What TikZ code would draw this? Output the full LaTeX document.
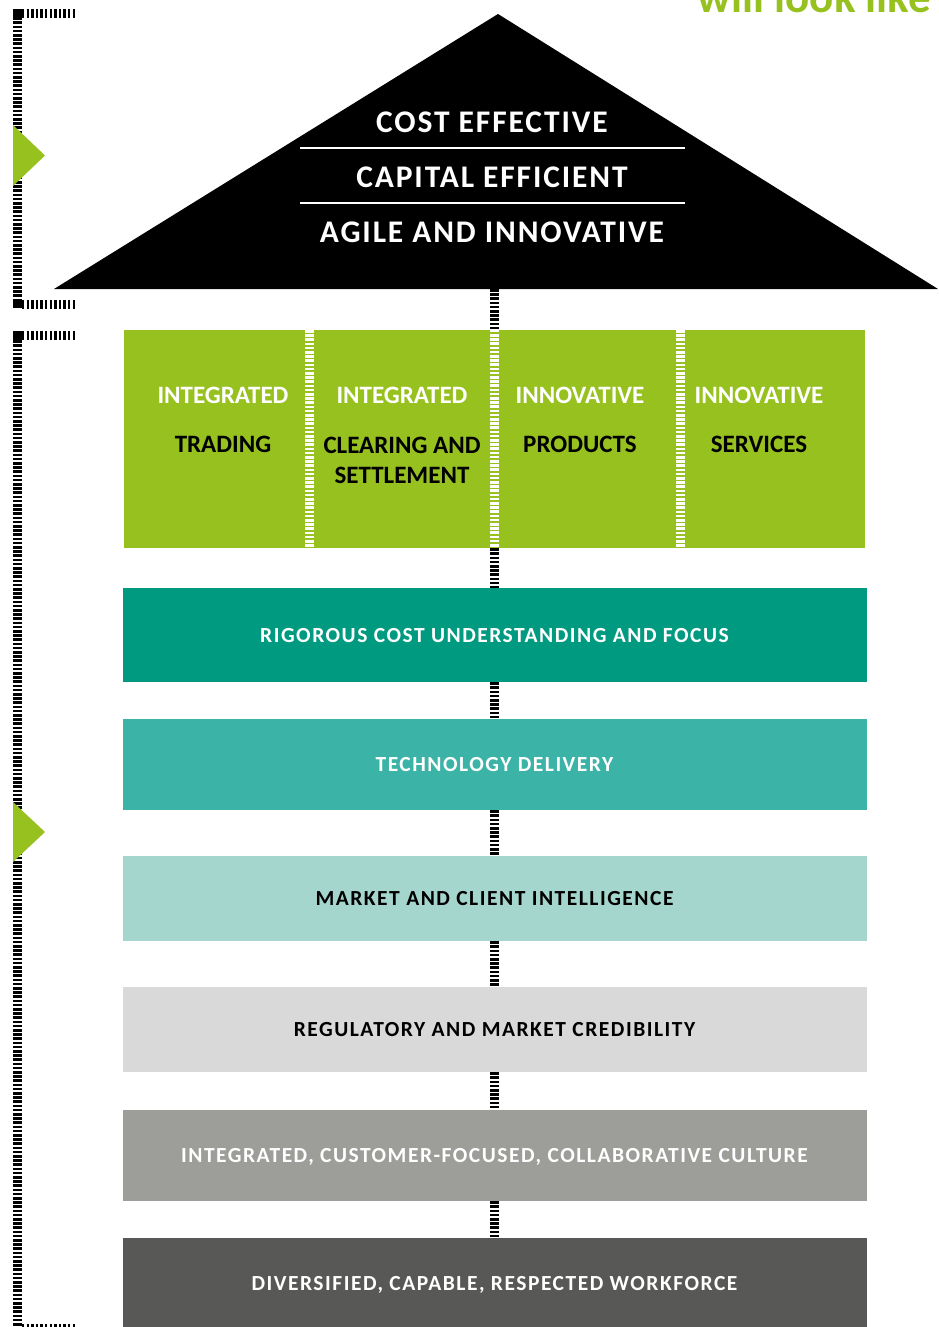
\documentclass[tikz,border=0pt]{standalone}
\usepackage{fontspec}
\setmainfont{Carlito}
\newfontfamily\spacedfont[LetterSpace=6]{Carlito}
\newfontfamily\barfont[LetterSpace=7]{Carlito}
\definecolor{lime}{HTML}{97C11F}
\definecolor{tealA}{HTML}{009A80}
\definecolor{tealB}{HTML}{3BB3A6}
\definecolor{mintC}{HTML}{A5D6CD}
\definecolor{greyD}{HTML}{D9D9D9}
\definecolor{greyE}{HTML}{9D9D9A}
\definecolor{greyF}{HTML}{585856}
\begin{document}
\begin{tikzpicture}[x=1pt,y=-1pt,
  hatch/.style={line width=9pt, dash pattern=on 2.6pt off 1.6pt, draw=black},
  hhatch/.style={line width=9pt, dash pattern=on 2.4pt off 2.2pt, draw=black},
  whitehatch/.style={line width=9pt, dash pattern=on 2.6pt off 1.6pt, draw=white},
  rooftext/.style={inner sep=0pt, anchor=base, text=white, font=\spacedfont\bfseries\fontsize{31.5}{36}\selectfont},
  headtext/.style={inner sep=0pt, anchor=base, text=white, font=\bfseries\fontsize{25}{30}\selectfont},
  bodytext/.style={inner sep=0pt, anchor=base, text=black, align=center, font=\bfseries\fontsize{25}{30}\selectfont},
  bar/.style={rectangle, inner sep=0pt, minimum width=744pt, text height=14pt, text depth=0pt, font=\barfont\bfseries\fontsize{21.5}{25}\selectfont},
  marker/.style={fill=lime}
]
\useasboundingbox (0,0) rectangle (938,1327);

% title fragment
\node[inner sep=0pt, anchor=base east, text=lime, font=\bfseries\fontsize{45}{50}\selectfont] (title) at (931,13) {will look like};

% roof
\fill[black] (498,14) -- (938,289) -- (54,289) -- cycle;
\coordinate (roof) at (494.5,289);
\node[rooftext] (r1) at (492,132) {COST EFFECTIVE};
\node[rooftext] (r2) at (492,187) {CAPITAL EFFICIENT};
\node[rooftext] (r3) at (492,242) {AGILE AND INNOVATIVE};
\draw[white, line width=2pt] (300,148) -- (685,148);
\draw[white, line width=2pt] (300,203) -- (685,203);

% left brackets
\draw[hatch] (17.5,13) -- (17.5,304);
\draw[hhatch] (22,13.5) -- (77,13.5);
\draw[hhatch] (22,304) -- (77,304);
\fill[black] (13,9) rectangle (22,18);
\fill[black] (13,300) rectangle (22,308);
\draw[hatch] (17.5,336) -- (17.5,1327);
\draw[hhatch] (22,335.5) -- (77,335.5);
\fill[black] (13,331) rectangle (22,340);
\draw[hhatch] (22,1328) -- (77,1328);
\fill[marker] (13,125) -- (45,155.5) -- (13,186) -- cycle;
\fill[marker] (13,802) -- (45,832) -- (13,862) -- cycle;

% green pillars
\node[rectangle, fill=lime, inner sep=0pt, minimum width=741pt, minimum height=218pt] (green) at (494.5,439) {};
\draw[whitehatch] (309.5,330) -- (309.5,548);
\draw[whitehatch] (green.north) -- (green.south);
\draw[whitehatch] (680.5,330) -- (680.5,548);

\node[headtext] (h1) at (223,403) {INTEGRATED};
\node[bodytext] (b1) at (223,452) {TRADING};
\node[headtext] (h2) at (402,403) {INTEGRATED};
\node[bodytext] (b2) at (402,483) {CLEARING AND\\SETTLEMENT};
\node[headtext] (h3) at (580,403) {INNOVATIVE};
\node[bodytext] (b3) at (580,452) {PRODUCTS};
\node[headtext] (h4) at (759,403) {INNOVATIVE};
\node[bodytext] (b4) at (759,452) {SERVICES};

% bars
\node[bar, fill=tealA, minimum height=94pt, text=white] (bar1) at (494.5,635) {RIGOROUS COST UNDERSTANDING AND FOCUS};
\node[bar, fill=tealB, minimum height=91pt, text=white] (bar2) at (494.5,764.5) {TECHNOLOGY DELIVERY};
\node[bar, fill=mintC, minimum height=85pt, text=black] (bar3) at (494.5,898.5) {MARKET AND CLIENT INTELLIGENCE};
\node[bar, fill=greyD, minimum height=85pt, text=black] (bar4) at (494.5,1029.5) {REGULATORY AND MARKET CREDIBILITY};
\node[bar, fill=greyE, minimum height=91pt, text=white] (bar5) at (494.5,1155.5) {INTEGRATED, CUSTOMER-FOCUSED, COLLABORATIVE CULTURE};
\node[bar, fill=greyF, minimum height=90pt, text=white] (bar6) at (494.5,1283) {DIVERSIFIED, CAPABLE, RESPECTED WORKFORCE};

% connectors
\draw[hatch] (roof) -- (green.north);
\draw[hatch] (green.south) -- (bar1.north);
\draw[hatch] (bar1.south) -- (bar2.north);
\draw[hatch] (bar2.south) -- (bar3.north);
\draw[hatch] (bar3.south) -- (bar4.north);
\draw[hatch] (bar4.south) -- (bar5.north);
\draw[hatch] (bar5.south) -- (bar6.north);
\end{tikzpicture}
\end{document}
